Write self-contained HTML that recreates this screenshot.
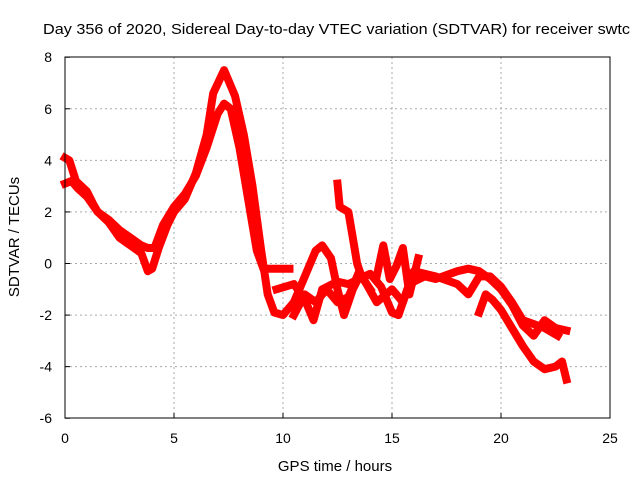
<!DOCTYPE html>
<html><head><meta charset="utf-8"><style>
body{margin:0;background:#fff}
svg{display:block;font-family:"Liberation Sans",sans-serif}
</style></head><body>
<svg id="chart" width="640" height="480" viewBox="0 0 640 480">
<text x="43" y="34" font-size="15" textLength="587" lengthAdjust="spacingAndGlyphs" fill="#000">Day 356 of 2020, Sidereal Day-to-day VTEC variation (SDTVAR) for receiver swtc</text>
<g id="grid"></g>
<g id="ticks"></g>
<g id="series"></g>
<rect x="65" y="57" width="545" height="361" fill="none" stroke="#000" stroke-width="1"/>
<text x="335" y="471" font-size="15" text-anchor="middle">GPS time / hours</text>
<text transform="translate(19,237) rotate(-90)" font-size="15" text-anchor="middle">SDTVAR / TECUs</text>
</svg>
<script>
const xTicks=[0,5,10,15,20,25];
const yTicks=[-6,-4,-2,0,2,4,6,8];
const trackA_t=[0,0.3,0.6,1,1.5,2,2.5,3,3.5,3.8,4.1,4.5,5,5.5,6,6.5,7,7.3,7.6,8,8.4,8.8,9.1,9.3,9.8,10.3];
const trackA_v=[3.1,3.2,2.9,2.6,2.0,1.7,1.3,1.0,0.7,0.6,0.6,1.5,2.2,2.7,3.4,4.5,5.8,6.2,6.0,4.5,2.5,0.5,-0.2,-0.2,-0.2,-0.2];
const trackB_t=[0,0.2,0.5,1,1.3,1.5,2,2.5,3,3.5,3.8,4.0,4.3,4.7,5,5.5,6,6.5,6.8,7.3,7.8,8.2,8.6,9,9.3,9.6,10,10.5,11,11.5,11.8,12.2,12.5,12.8,13.2,13.5];
const trackB_v=[4.1,4.0,3.2,2.8,2.3,2.0,1.6,1.0,0.7,0.4,-0.3,-0.2,0.6,1.5,2.0,2.5,3.5,5.0,6.6,7.5,6.5,5.0,3.0,0.5,-1.2,-1.9,-2.0,-1.5,-0.5,0.5,0.7,0.2,-1.0,-2.0,-1.0,-0.5];
const trackC_t=[9.7,10.5,11,11.4,11.8,12.5,13,14,14.5,15,15.3,15.7,16,16.5,17,18,18.5,19,19.5,20,20.5,21,21.5,22,22.5,23];
const trackC_v=[-1.0,-0.8,-1.4,-2.2,-1.0,-0.7,-0.8,-0.4,-0.9,-1.9,-2.0,-1.0,-0.7,-0.5,-0.6,-0.3,-0.2,-0.3,-0.6,-1.0,-1.6,-2.4,-2.8,-2.2,-2.5,-2.6];
const trackD_t=[10.5,11,11.5,12,12.5,13,13.5,14.3,15,15.5,16,17,18,18.5,19,19.5,20,20.5,21,22,22.6];
const trackD_v=[-2.0,-1.2,-1.5,-1.0,-1.5,-1.3,-0.3,-1.5,-1.0,-1.5,-0.3,-0.5,-0.8,-1.2,-0.5,-0.5,-0.9,-1.5,-2.2,-2.5,-2.8];
const trackE_t=[19,19.3,19.6,20,20.5,21,21.5,22,22.5,22.8,23];
const trackE_v=[-1.9,-1.2,-1.4,-1.8,-2.5,-3.2,-3.8,-4.1,-4.0,-3.8,-4.5];
const trackF_t=[12.5,12.6,13,13.2,13.4,13.6,14];
const trackF_v=[3.1,2.2,2.0,1.0,0,-0.5,-1.0];
const trackG_t=[14.3,14.6,14.9,15.2,15.5,15.8,16.2];
const trackG_v=[-0.5,0.7,-0.6,-0.1,0.6,-1.2,0.2];

const NS='http://www.w3.org/2000/svg';
const X=t=>65+t*(545/25);
const Y=v=>263.5-v*(361/14);
const grid=document.getElementById('grid'),ticks=document.getElementById('ticks'),series=document.getElementById('series');
function mk(tag,attrs,parent){const e=document.createElementNS(NS,tag);for(const k in attrs)e.setAttribute(k,attrs[k]);parent.appendChild(e);return e;}
xTicks.forEach(t=>{
  if(t>0&&t<25){const g=mk('line',{x1:X(t),x2:X(t),y1:57,y2:418,stroke:'#aaa','stroke-dasharray':'2,3'},grid);
  
  }
  const tk=mk('line',{x1:X(t),x2:X(t),y1:418,y2:413,stroke:'#000'},ticks);
  
  
  const l=mk('text',{x:X(t),y:443,'font-size':14,'text-anchor':'middle'},ticks);l.textContent=t;
  
  
});
yTicks.forEach(v=>{
  if(v>-6&&v<8){const g=mk('line',{x1:65,x2:610,y1:Y(v),y2:Y(v),stroke:'#aaa','stroke-dasharray':'2,3'},grid);
  
  }
  const tk=mk('line',{x1:65,x2:70,y1:Y(v),y2:Y(v),stroke:'#000'},ticks);
  
  
  const l=mk('text',{x:52,y:Y(v)+5,'font-size':14,'text-anchor':'end'},ticks);l.textContent=v;
  
  
});
const tracks=[[trackA_t,trackA_v,'track-a'],[trackB_t,trackB_v,'track-b'],[trackC_t,trackC_v,'track-c'],[trackD_t,trackD_v,'track-d'],[trackE_t,trackE_v,'track-e'],[trackF_t,trackF_v,'track-f'],[trackG_t,trackG_v,'track-g']];
tracks.forEach(([ts,vs,name])=>{
  const pts=ts.map((t,i)=>X(t).toFixed(1)+','+Y(vs[i]).toFixed(1)).join(' ');
  const p=mk('polyline',{points:pts,fill:'none',stroke:'#f00','stroke-width':8,'stroke-linejoin':'round','stroke-linecap':'square'},series);
  
  
});
</script>
</body></html>
